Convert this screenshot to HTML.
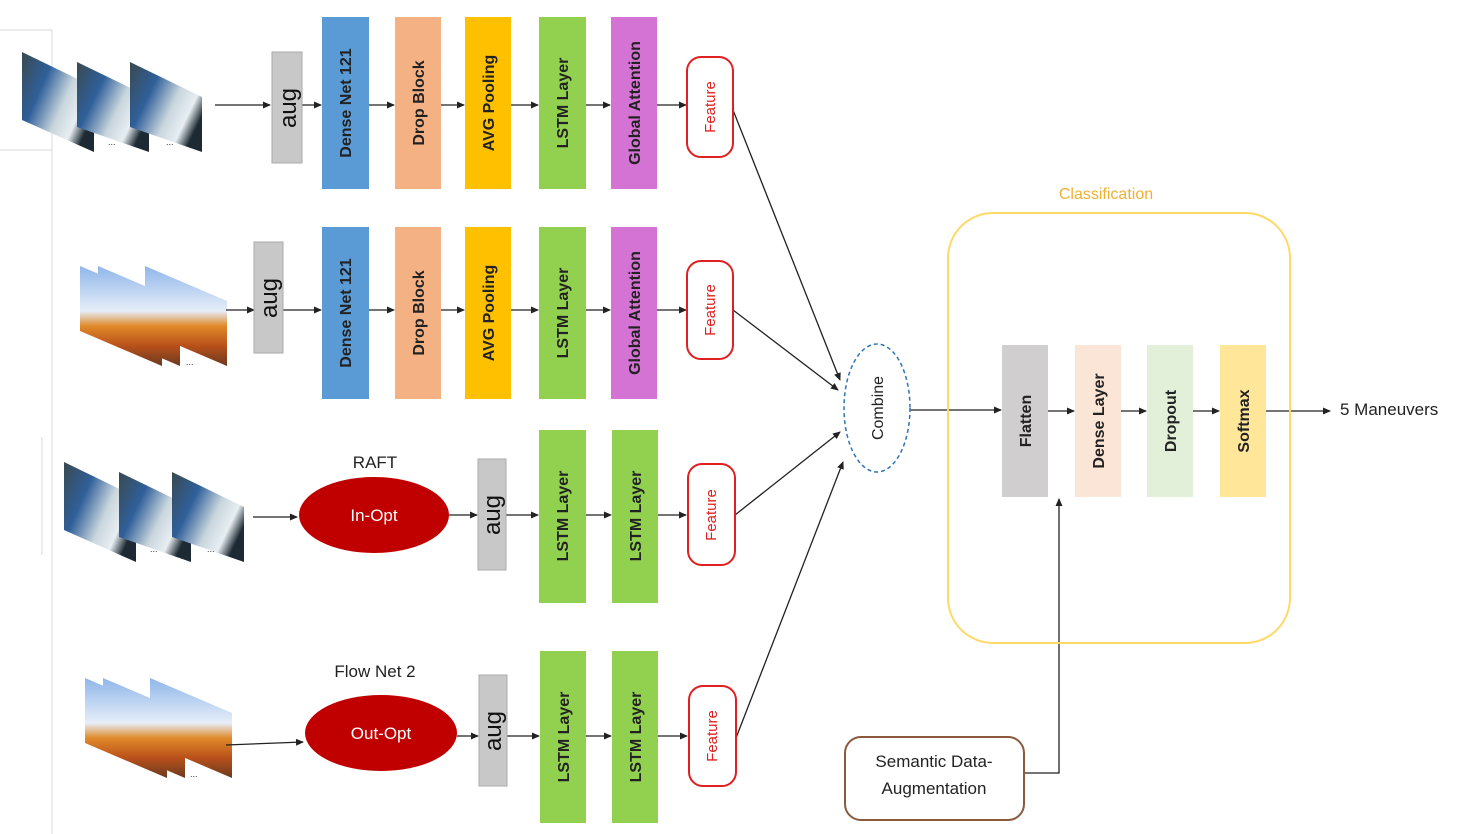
<!DOCTYPE html>
<html><head><meta charset="utf-8"><style>
html,body{margin:0;padding:0;background:#fff}
svg{display:block;font-family:"Liberation Sans",sans-serif}
</style></head><body>
<svg width="1473" height="834" viewBox="0 0 1473 834" xmlns="http://www.w3.org/2000/svg">
<defs>
<marker id="a" markerWidth="8" markerHeight="8" refX="7" refY="4" orient="auto" markerUnits="userSpaceOnUse"><path d="M0,0.5 L8,4 L0,7.5z" fill="#222"/></marker>
<linearGradient id="car" x1="0" y1="0" x2="1" y2="0.6"><stop offset="0" stop-color="#3a4a50"/><stop offset="0.35" stop-color="#2f5f9a"/><stop offset="0.65" stop-color="#c9d6dd"/><stop offset="0.85" stop-color="#e8eef2"/><stop offset="1" stop-color="#1d2a33"/></linearGradient>
<linearGradient id="out" x1="0" y1="0" x2="0" y2="1"><stop offset="0" stop-color="#8fb6ea"/><stop offset="0.45" stop-color="#e6eef8"/><stop offset="0.6" stop-color="#e08a2a"/><stop offset="0.8" stop-color="#b8501a"/><stop offset="1" stop-color="#6a3a20"/></linearGradient>
<g id="carstack">
<path d="M0,0 L72,35 L72,100 L0,68z" fill="url(#car)"/>
<path d="M55,10 L127,45 L127,100 L55,75z" fill="url(#car)"/>
<path d="M108,10 L180,45 L180,100 L108,75z" fill="url(#car)"/>
</g>
<g id="outstack">
<path d="M0,0 L82,35 L82,100 L0,65z" fill="url(#out)"/>
<path d="M18,0 L100,35 L100,100 L18,65z" fill="url(#out)"/>
<path d="M65,0 L147,35 L147,100 L65,65z" fill="url(#out)"/>
</g>
</defs>
<g stroke="#d8d8d8" fill="none">
<path d="M0,30 H52 V150 H0"/><path d="M52,150 V834"/><path d="M42,437 V555"/>
</g>

<use href="#carstack" x="22" y="52"/>
<use href="#outstack" x="80" y="266"/>
<use href="#carstack" x="64" y="462"/>
<use href="#outstack" x="85" y="678"/>
<g fill="#333" font-size="9"><text x="108" y="145">...</text><text x="166" y="145">...</text><text x="186" y="365">...</text><text x="150" y="552">...</text><text x="207" y="552">...</text><text x="190" y="777">...</text></g>

<g stroke="#222" stroke-width="1.3" fill="none" marker-end="url(#a)">
<path d="M215,105 H270"/><path d="M302,105 H321"/><path d="M369,105 H394"/><path d="M441,105 H464"/><path d="M511,105 H538"/><path d="M586,105 H610"/><path d="M657,105 H686"/>
<path d="M226,310 H254" marker-end=""/><path d="M283,310 H321"/><path d="M369,310 H394"/><path d="M441,310 H464"/><path d="M511,310 H538"/><path d="M586,310 H610"/><path d="M657,310 H686"/>
<path d="M253,517 H297"/><path d="M449,515 H477" marker-end=""/><path d="M506,515 H538"/><path d="M586,515 H611"/><path d="M658,515 H686"/>
<path d="M226,745 L303,742"/><path d="M457,736 H478" marker-end=""/><path d="M507,736 H539"/><path d="M586,736 H611"/><path d="M658,736 H687"/>
<path d="M733,110 L840,380"/><path d="M733,310 L838,390"/><path d="M735,515 L840,432"/><path d="M736,738 L843,462"/>
<path d="M910,410 H1001"/><path d="M1048,411 H1074"/><path d="M1121,411 H1146"/><path d="M1193,411 H1219"/><path d="M1266,411 H1330"/>
<path d="M1024,773 H1059 V499"/>
</g>

<g fill="#c8c8c8" stroke="#aaa"><rect x="272" y="52" width="30" height="111"/><rect x="254" y="242" width="29" height="111"/><rect x="478" y="459" width="28" height="111"/><rect x="479" y="675" width="28" height="111"/></g>
<g font-size="24" fill="#111">
<text transform="translate(296,108) rotate(-90)" text-anchor="middle">aug</text>
<text transform="translate(277,298) rotate(-90)" text-anchor="middle">aug</text>
<text transform="translate(500,515) rotate(-90)" text-anchor="middle">aug</text>
<text transform="translate(501,731) rotate(-90)" text-anchor="middle">aug</text>
</g>

<g>
<rect x="322" y="17" width="47" height="172" fill="#5b9bd5"/><rect x="395" y="17" width="46" height="172" fill="#f4b183"/><rect x="465" y="17" width="46" height="172" fill="#ffc000"/><rect x="539" y="17" width="47" height="172" fill="#92d050"/><rect x="611" y="17" width="46" height="172" fill="#d473d4"/>
<rect x="322" y="227" width="47" height="172" fill="#5b9bd5"/><rect x="395" y="227" width="46" height="172" fill="#f4b183"/><rect x="465" y="227" width="46" height="172" fill="#ffc000"/><rect x="539" y="227" width="47" height="172" fill="#92d050"/><rect x="611" y="227" width="46" height="172" fill="#d473d4"/>
<rect x="539" y="430" width="47" height="173" fill="#92d050"/><rect x="612" y="430" width="46" height="173" fill="#92d050"/>
<rect x="540" y="651" width="46" height="172" fill="#92d050"/><rect x="612" y="651" width="46" height="172" fill="#92d050"/>
</g>
<g font-size="16" font-weight="bold" fill="#222" text-anchor="middle">
<text transform="translate(351,103) rotate(-90)">Dense Net 121</text>
<text transform="translate(424,103) rotate(-90)">Drop Block</text>
<text transform="translate(494,103) rotate(-90)">AVG Pooling</text>
<text transform="translate(568,103) rotate(-90)">LSTM Layer</text>
<text transform="translate(640,103) rotate(-90)">Global Attention</text>
<text transform="translate(351,313) rotate(-90)">Dense Net 121</text>
<text transform="translate(424,313) rotate(-90)">Drop Block</text>
<text transform="translate(494,313) rotate(-90)">AVG Pooling</text>
<text transform="translate(568,313) rotate(-90)">LSTM Layer</text>
<text transform="translate(640,313) rotate(-90)">Global Attention</text>
<text transform="translate(568,516) rotate(-90)">LSTM Layer</text>
<text transform="translate(641,516) rotate(-90)">LSTM Layer</text>
<text transform="translate(569,737) rotate(-90)">LSTM Layer</text>
<text transform="translate(641,737) rotate(-90)">LSTM Layer</text>
</g>

<g fill="#fff" stroke="#e02020" stroke-width="2">
<rect x="687" y="57" width="46" height="100" rx="14"/><rect x="687" y="261" width="46" height="98" rx="14"/><rect x="688" y="464" width="47" height="101" rx="14"/><rect x="689" y="686" width="47" height="100" rx="14"/>
</g>
<g font-size="15" fill="#e02020" text-anchor="middle">
<text transform="translate(715,107) rotate(-90)">Feature</text>
<text transform="translate(715,310) rotate(-90)">Feature</text>
<text transform="translate(716,515) rotate(-90)">Feature</text>
<text transform="translate(717,736) rotate(-90)">Feature</text>
</g>

<ellipse cx="374" cy="515" rx="75" ry="38" fill="#c00000"/>
<ellipse cx="381" cy="733" rx="76" ry="38" fill="#c00000"/>
<g font-size="17" text-anchor="middle">
<text x="374" y="521" fill="#fff">In-Opt</text><text x="381" y="739" fill="#fff">Out-Opt</text>
<text x="375" y="468" fill="#222">RAFT</text><text x="375" y="677" fill="#222">Flow Net 2</text>
</g>

<ellipse cx="877" cy="408" rx="33" ry="64" fill="#fff" stroke="#2e75b6" stroke-width="1.5" stroke-dasharray="4,3"/>
<text transform="translate(883,408) rotate(-90)" text-anchor="middle" font-size="16" fill="#222">Combine</text>

<text x="1106" y="199" text-anchor="middle" font-size="16" fill="#f0b030">Classification</text>
<rect x="948" y="213" width="342" height="430" rx="45" fill="none" stroke="#ffd966" stroke-width="2"/>
<rect x="1002" y="345" width="46" height="152" fill="#d0cece"/>
<rect x="1075" y="345" width="46" height="152" fill="#fbe5d6"/>
<rect x="1147" y="345" width="46" height="152" fill="#e2f0d9"/>
<rect x="1220" y="345" width="46" height="152" fill="#ffe699"/>
<g font-size="16" font-weight="bold" fill="#222" text-anchor="middle">
<text transform="translate(1031,421) rotate(-90)">Flatten</text>
<text transform="translate(1104,421) rotate(-90)">Dense Layer</text>
<text transform="translate(1176,421) rotate(-90)">Dropout</text>
<text transform="translate(1249,421) rotate(-90)">Softmax</text>
</g>
<text x="1340" y="415" font-size="17" fill="#222">5 Maneuvers</text>

<rect x="845" y="737" width="179" height="83" rx="16" fill="#fff" stroke="#8b5a3c" stroke-width="2"/>
<g font-size="17" fill="#222" text-anchor="middle"><text x="934" y="767">Semantic Data-</text><text x="934" y="794">Augmentation</text></g>
</svg>
</body></html>
